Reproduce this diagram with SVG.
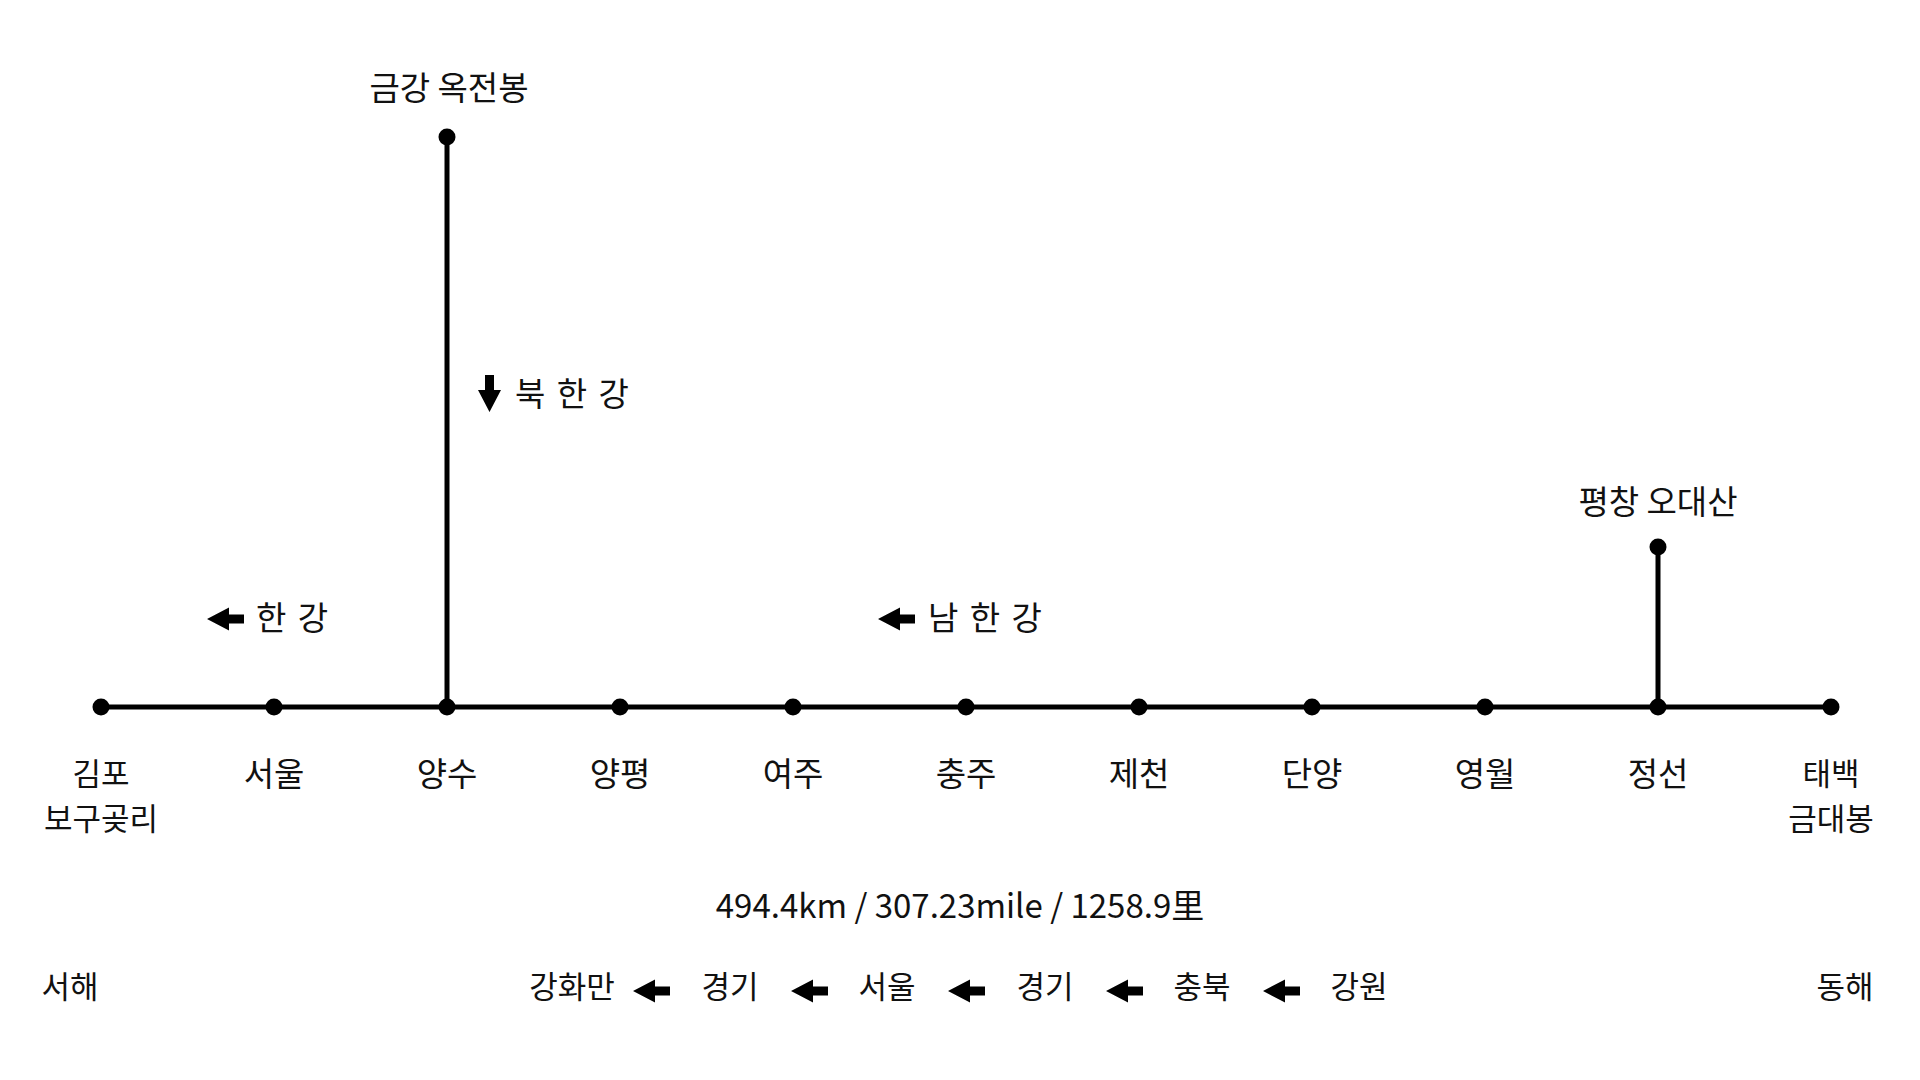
<svg xmlns="http://www.w3.org/2000/svg" xmlns:xlink="http://www.w3.org/1999/xlink" width="1920" height="1080" viewBox="0 0 1920 1080">
  <style>
    text { font-family: "Noto Sans CJK KR", "Noto Sans", sans-serif; font-size: 33px; fill: #111; }
    .mid { text-anchor: middle; }
    .two { font-size: 31px; }
    .route { font-size: 31px; }
    .river { word-spacing: 4px; }
    .line { stroke: #000; stroke-width: 5; fill: none; }
    .dot { fill: #000; }
    .arr { fill: #000; }
  </style>
  <defs>
    <path id="arrowL" class="arr" d="M0,0 L22,-11.5 L22,-4.5 L37,-4.5 L37,4.5 L22,4.5 L22,11.5 Z"/>
  </defs>
  <rect width="1920" height="1080" fill="#fff"/>

  <g id="connectors">
    <line class="line" x1="101" y1="707" x2="1831" y2="707"/>
    <line class="line" x1="447" y1="137" x2="447" y2="707"/>
    <line class="line" x1="1658" y1="547" x2="1658" y2="707"/>
  </g>

  <g id="node-gimpo"><circle class="dot" cx="101" cy="707" r="8.5"/><text class="mid two" x="101" y="785">김포</text><text class="mid two" x="101" y="830">보구곶리</text></g>
  <g id="node-seoul"><circle class="dot" cx="274" cy="707" r="8.5"/><text class="mid" x="274" y="786">서울</text></g>
  <g id="node-yangsu"><circle class="dot" cx="447" cy="707" r="8.5"/><text class="mid" x="447" y="786">양수</text></g>
  <g id="node-yangpyeong"><circle class="dot" cx="620" cy="707" r="8.5"/><text class="mid" x="620" y="786">양평</text></g>
  <g id="node-yeoju"><circle class="dot" cx="793" cy="707" r="8.5"/><text class="mid" x="793" y="786">여주</text></g>
  <g id="node-chungju"><circle class="dot" cx="966" cy="707" r="8.5"/><text class="mid" x="966" y="786">충주</text></g>
  <g id="node-jecheon"><circle class="dot" cx="1139" cy="707" r="8.5"/><text class="mid" x="1139" y="786">제천</text></g>
  <g id="node-danyang"><circle class="dot" cx="1312" cy="707" r="8.5"/><text class="mid" x="1312" y="786">단양</text></g>
  <g id="node-yeongwol"><circle class="dot" cx="1485" cy="707" r="8.5"/><text class="mid" x="1485" y="786">영월</text></g>
  <g id="node-jeongseon"><circle class="dot" cx="1658" cy="707" r="8.5"/><text class="mid" x="1658" y="786">정선</text></g>
  <g id="node-taebaek"><circle class="dot" cx="1831" cy="707" r="8.5"/><text class="mid two" x="1831" y="785">태백</text><text class="mid two" x="1831" y="830">금대봉</text></g>
  <g id="node-okjeonbong"><circle class="dot" cx="447" cy="137" r="8.5"/><text class="mid" x="449" y="100">금강 옥전봉</text></g>
  <g id="node-odaesan"><circle class="dot" cx="1658" cy="547" r="8.5"/><text class="mid" x="1658" y="514">평창 오대산</text></g>

  <g id="river-labels">
    <use xlink:href="#arrowL" href="#arrowL" transform="translate(207,619)"/>
    <text class="river" x="256" y="630">한 강</text>
    <use xlink:href="#arrowL" href="#arrowL" transform="translate(878,619)"/>
    <text class="river" x="928" y="630">남 한 강</text>
    <use xlink:href="#arrowL" href="#arrowL" transform="translate(489.5,412) rotate(-90)"/>
    <text class="river" x="515" y="406">북 한 강</text>
  </g>

  <g id="distance">
    <text class="mid" x="960" y="918">494.4km / 307.23mile / 1258.9里</text>
  </g>

  <g id="route">
    <text class="mid route" x="70" y="998">서해</text>
    <text class="mid route" x="1845" y="998">동해</text>
    <text class="mid route" x="572" y="998">강화만</text>
    <use xlink:href="#arrowL" href="#arrowL" transform="translate(633,991)"/>
    <text class="mid route" x="730" y="998">경기</text>
    <use xlink:href="#arrowL" href="#arrowL" transform="translate(791,991)"/>
    <text class="mid route" x="887" y="998">서울</text>
    <use xlink:href="#arrowL" href="#arrowL" transform="translate(948,991)"/>
    <text class="mid route" x="1045" y="998">경기</text>
    <use xlink:href="#arrowL" href="#arrowL" transform="translate(1106,991)"/>
    <text class="mid route" x="1202" y="998">충북</text>
    <use xlink:href="#arrowL" href="#arrowL" transform="translate(1263,991)"/>
    <text class="mid route" x="1359" y="998">강원</text>
  </g>
</svg>
